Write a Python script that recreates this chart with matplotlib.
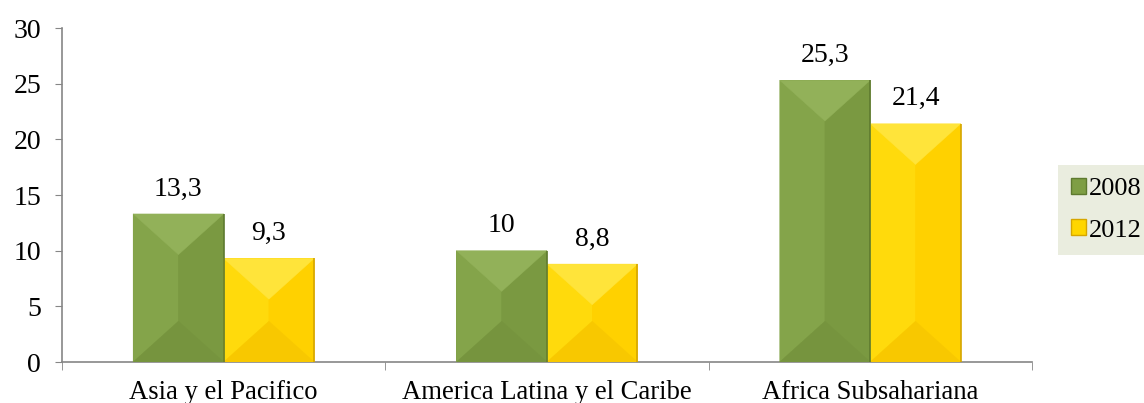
"""Bar chart: 2008 vs 2012 values by region, with bevelled bars."""

import matplotlib

matplotlib.use("Agg")
import matplotlib.pyplot as plt
import numpy as np
from matplotlib.patches import Patch, Polygon

categories = ["Asia y el Pacifico", "America Latina y el Caribe", "Africa Subsahariana"]
years = ["2008", "2012"]
values_2008 = [13.3, 10.0, 25.3]
values_2012 = [9.3, 8.8, 21.4]
value_labels_2008 = ["13,3", "10", "25,3"]
value_labels_2012 = ["9,3", "8,8", "21,4"]
y_ticks = [0, 5, 10, 15, 20, 25, 30]

# face colours for the bevel facets: top, left, right, bottom, plus edge
GREEN = {"base": "#7e9e44", "top": "#92b159", "left": "#84a44a",
         "right": "#7a9941", "bottom": "#76943e", "edge": "#5e7a2f"}
YELLOW = {"base": "#ffd600", "top": "#ffe43a", "left": "#ffda0c",
          "right": "#ffd100", "bottom": "#f8c800", "edge": "#d6a600"}

plt.rcParams["font.family"] = ["Liberation Serif", "DejaVu Serif"]
plt.rcParams["font.size"] = 20

fig = plt.figure(figsize=(11.44, 4.03), dpi=100)
ax = fig.add_axes([0.0542, 0.1017, 0.902 - 0.0542, 0.9305 - 0.1017])

x = np.arange(len(categories))
width = 0.28
ax.set_xlim(-0.5, len(categories) - 0.5)
ax.set_ylim(0, 30)


def bevel_bars(bars, colors):
    """Overlay four shaded facets on each bar to fake a bevel."""
    fig.canvas.draw()
    bbox = ax.get_window_extent()
    px_x = bbox.width / (ax.get_xlim()[1] - ax.get_xlim()[0])
    px_y = bbox.height / (ax.get_ylim()[1] - ax.get_ylim()[0])
    for bar in bars:
        x0 = bar.get_x()
        x1 = x0 + bar.get_width()
        y0 = bar.get_y()
        y1 = y0 + bar.get_height()
        cx = (x0 + x1) / 2
        d = min(0.9 * bar.get_width() * px_x / 2 / px_y, bar.get_height() / 2)
        facets = {
            "left": [(x0, y1), (cx, y1 - d), (cx, y0 + d), (x0, y0)],
            "right": [(x1, y1), (cx, y1 - d), (cx, y0 + d), (x1, y0)],
            "top": [(x0, y1), (x1, y1), (cx, y1 - d)],
            "bottom": [(x0, y0), (x1, y0), (cx, y0 + d)],
        }
        for name, pts in facets.items():
            ax.add_patch(Polygon(pts, closed=True, facecolor=colors[name],
                                 edgecolor=colors[name], linewidth=0.3,
                                 zorder=3))
        ax.plot([x1, x1], [y0, y1], color=colors["edge"], lw=1.2, zorder=4,
                solid_capstyle="butt")


bars_a = ax.bar(x - width / 2, values_2008, width, color=GREEN["base"], zorder=2)
bars_b = ax.bar(x + width / 2, values_2012, width, color=YELLOW["base"], zorder=2)
bevel_bars(bars_a, GREEN)
bevel_bars(bars_b, YELLOW)

for bar, lab in zip(bars_a, value_labels_2008):
    ax.annotate(lab, (bar.get_x() + bar.get_width() / 2, bar.get_height()),
                xytext=(0, 9), textcoords="offset points",
                ha="center", va="bottom")
for bar, lab in zip(bars_b, value_labels_2012):
    ax.annotate(lab, (bar.get_x() + bar.get_width() / 2, bar.get_height()),
                xytext=(0, 9), textcoords="offset points",
                ha="center", va="bottom")

ax.set_yticks(y_ticks)
ax.set_xticks(x)
ax.set_xticklabels(categories, fontsize=19.2)
ax.tick_params(axis="x", length=0, pad=13)
ax.set_xticks(np.arange(len(categories) + 1) - 0.5, minor=True)
ax.tick_params(axis="x", which="minor", length=6, color="#868686")
ax.tick_params(axis="y", length=5, color="#868686", pad=10)

for side in ["top", "right"]:
    ax.spines[side].set_visible(False)
for side in ["left", "bottom"]:
    ax.spines[side].set_color("#868686")
    ax.spines[side].set_linewidth(1.2)

handles = [Patch(facecolor=GREEN["base"], edgecolor=GREEN["edge"]),
           Patch(facecolor=YELLOW["base"], edgecolor=YELLOW["edge"])]
leg = fig.legend(handles, years, loc="upper left",
                 bbox_to_anchor=(0.9248, 0.5906), borderaxespad=0,
                 frameon=True, facecolor="#eaeddf", edgecolor="none",
                 fancybox=False, fontsize=19,
                 handlelength=0.55, handleheight=0.55, handletextpad=0.12,
                 labelspacing=0.72, borderpad=0.5)
leg.get_frame().set_alpha(1)

fig.savefig("out.png", dpi=100)
